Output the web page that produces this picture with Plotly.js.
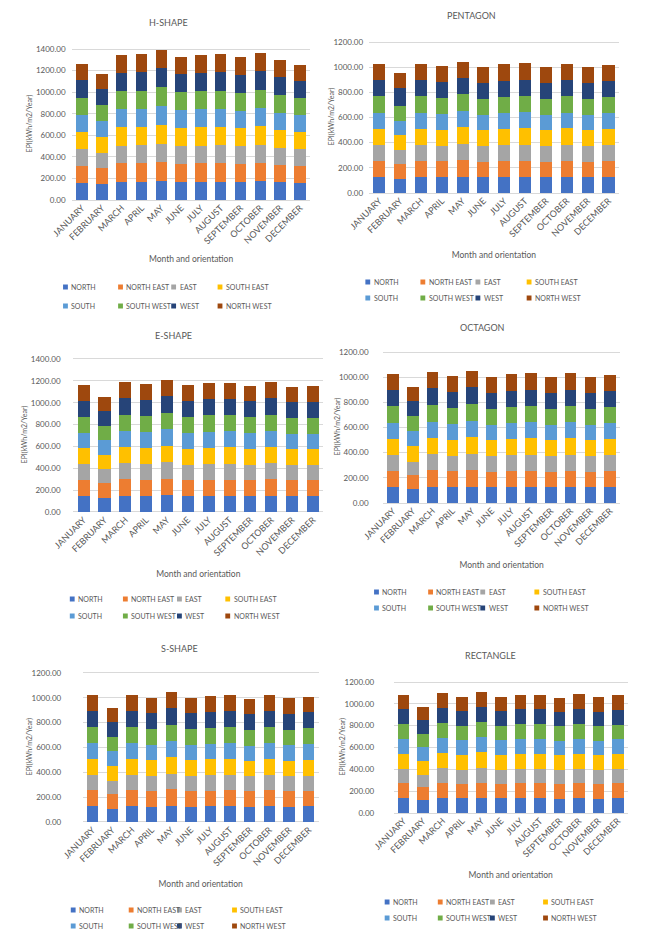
<!DOCTYPE html>
<html>
<head>
<meta charset="utf-8">
<script src="https://cdn.plot.ly/plotly-3.0.1.min.js"></script>
<style>
html,body{margin:0;padding:0;background:#ffffff;}
#chart{width:645px;height:944px;}
</style>
</head>
<body>
<div id="chart"></div>
<script>
// ---------- DATA ----------
const MONTHS = ['JANUARY','FEBRUARY','MARCH','APRIL','MAY','JUNE','JULY','AUGUST','SEPTEMBER','OCTOBER','NOVEMBER','DECEMBER'];
const ORIENTATIONS = ['NORTH','NORTH EAST','EAST','SOUTH EAST','SOUTH','SOUTH WEST','WEST','NORTH WEST'];
const SHAPE_TITLES = ['H-SHAPE','PENTAGON','E-SHAPE','OCTAGON','S-SHAPE','RECTANGLE'];
const Y_TICKS_1400 = [0,200,400,600,800,1000,1200,1400];
const Y_LABELS_1400 = ['0.00','200.00','400.00','600.00','800.00','1000.00','1200.00','1400.00'];
const Y_TICKS_1200 = [0,200,400,600,800,1000,1200];
const Y_LABELS_1200 = ['0.00','200.00','400.00','600.00','800.00','1000.00','1200.00'];

// rows = orientations (NORTH ... NORTH WEST), columns = months (JAN ... DEC), EPI kWh/m2/Year
const H_SHAPE = [
  [160,148,170,171,177,168,170,171,168,172,164,159],
  [159,147,169,170,175,167,169,170,166,171,163,158],
  [155,143,165,166,171,163,165,166,163,167,159,154],
  [160,148,171,171,176,168,170,171,168,172,164,159],
  [156,144,166,167,172,164,166,167,164,168,160,155],
  [159,147,169,170,175,167,169,170,167,171,163,158],
  [159,148,169,170,175,167,169,169,166,171,163,158],
  [156,144,166,167,172,164,166,167,164,168,160,155]
];
const PENTAGON = [
  [127,112,128,125,131,124,127,128,124,128,124,127],
  [129,118,129,127,132,126,128,129,126,129,125,128],
  [124,110,124,122,127,121,124,125,121,125,121,124],
  [131,118,130,129,133,127,130,131,127,131,127,129],
  [126,116,127,124,128,123,126,127,123,126,124,126],
  [130,114,129,128,132,127,129,130,127,130,127,129],
  [130,145,130,128,132,127,130,131,127,130,127,129],
  [128,122,128,127,130,125,128,129,125,129,125,128]
];
const E_SHAPE = [
  [146,128,149,147,152,145,148,148,145,149,144,144],
  [147,134,150,148,153,146,149,149,146,150,145,145],
  [142,130,146,143,148,142,144,145,141,146,140,141],
  [147,134,151,149,154,147,149,150,146,151,145,145],
  [143,131,147,145,150,143,146,146,143,147,142,142],
  [146,133,149,147,152,146,148,149,145,149,145,145],
  [146,134,150,147,152,146,148,149,146,150,145,145],
  [143,131,146,144,149,143,146,147,143,146,142,143]
];
const OCTAGON = [
  [127,108,130,125,131,124,127,128,124,128,124,127],
  [129,115,131,127,133,126,128,129,126,129,125,128],
  [124,106,126,122,128,121,124,125,121,125,121,124],
  [131,125,132,128,134,127,130,131,127,131,127,129],
  [126,120,128,124,129,123,126,127,123,127,124,126],
  [130,115,131,128,132,127,129,130,126,130,127,129],
  [130,119,132,128,133,127,130,131,127,131,127,129],
  [128,112,130,126,130,125,128,129,124,129,125,128]
];
const S_SHAPE = [
  [127,108,128,124,131,124,126,127,123,127,123,125],
  [128,114,127,126,132,125,127,128,124,128,125,127],
  [124,106,124,121,127,122,123,124,120,124,120,122],
  [130,124,129,127,133,127,129,130,126,130,127,128],
  [126,119,127,123,128,124,125,126,122,126,123,125],
  [129,115,129,127,132,126,128,129,125,129,126,128],
  [129,120,129,127,132,127,129,130,126,129,126,128],
  [127,112,127,125,130,125,128,128,124,127,125,127]
];
const RECTANGLE = [
  [136,116,138,133,139,133,136,136,132,136,132,135],
  [137,121,139,134,140,133,136,137,133,137,133,136],
  [132,114,134,130,135,131,133,132,129,133,130,132],
  [138,126,140,136,141,135,138,138,135,139,135,137],
  [134,124,136,132,137,133,134,134,131,135,132,134],
  [137,122,139,134,140,134,137,137,133,137,133,136],
  [137,128,139,134,140,134,137,137,134,138,134,136],
  [134,124,135,132,138,132,134,134,131,135,131,134]
];
const SHAPES_DATA = [H_SHAPE, PENTAGON, E_SHAPE, OCTAGON, S_SHAPE, RECTANGLE];
const Y_MAX = [1400,1200,1400,1200,1200,1200];

// ---------- STYLE / GEOMETRY ----------
const COLORS = ['#4472C4','#ED7D31','#A5A5A5','#FFC000','#5B9BD5','#70AD47','#264478','#9E480E'];
const W = 645, H = 944;
const FONT = 'Lato, "Liberation Sans", "DejaVu Sans", sans-serif';
const TXT = '#595959';
const HEADROOM = 1.0125; // small space above the top gridline
// pixel geometry of each panel (yb = baseline, yt = top gridline)
const PANELS = [
  {x0:52,  x1:298, yb:200, yt:49,  tx:152, ty:23,  gap:4,  so:10, lx:[45,102,157,205],  ly:[287,306]},
  {x0:359, x1:618, yb:193, yt:42,  tx:465, ty:15,  gap:3,  so:13, lx:[358,415,472,525], ly:[282,298]},
  {x0:53,  x1:312, yb:512, yt:359, tx:157, ty:335, gap:10, so:13, lx:[52,107,163,213],  ly:[599,616]},
  {x0:374, x1:619, yb:503, yt:352, tx:477, ty:327, gap:12, so:13, lx:[367,423,477,533], ly:[592,608]},
  {x0:63,  x1:307, yb:822, yt:673, tx:163, ty:648, gap:19, so:13, lx:[53,113,163,220],  ly:[910,926]},
  {x0:385, x1:627, yb:813, yt:682, tx:485, ty:655, gap:17, so:13, lx:[378,433,487,542], ly:[902,918]}
];
const px = v => v / W;
const py = v => 1 - v / H;

const traces = [];
const layout = {
  width: W, height: H,
  margin: {l:0, r:0, t:0, b:0},
  paper_bgcolor: '#ffffff', plot_bgcolor: 'rgba(0,0,0,0)',
  barmode: 'stack', bargap: 0.42,
  showlegend: false,
  font: {family: FONT, color: TXT, size: 8},
  annotations: [], shapes: []
};

SHAPES_DATA.forEach((data, p) => {
  const n = p === 0 ? '' : String(p + 1);
  const g = PANELS[p];
  data.forEach((vals, o) => {
    traces.push({
      type: 'bar', x: MONTHS, y: vals, name: ORIENTATIONS[o],
      xaxis: 'x' + n, yaxis: 'y' + n,
      marker: {color: COLORS[o], line: {width: 0}},
      hovertemplate: '%{x}<br>' + ORIENTATIONS[o] + ': %{y:.2f}<extra></extra>'
    });
  });
  layout['xaxis' + n] = {
    domain: [px(g.x0), px(g.x1)], anchor: 'y' + n,
    type: 'category', showgrid: false, showline: false, zeroline: false, ticks: '',
    tickangle: -45, tickfont: {size: 9, color: TXT, family: FONT},
    automargin: true,
    title: {text: 'Month and orientation', standoff: g.so, font: {size: 8.5, color: TXT, family: FONT}},
    fixedrange: true
  };
  const big = Y_MAX[p] === 1400;
  const topPx = g.yb - (g.yb - g.yt) * HEADROOM;
  layout['yaxis' + n] = {
    domain: [py(g.yb), py(topPx)], anchor: 'x' + n,
    type: 'linear', autorange: false,
    range: [0, Y_MAX[p] * HEADROOM],
    tickmode: 'array',
    tickvals: big ? Y_TICKS_1400 : Y_TICKS_1200,
    ticktext: big ? Y_LABELS_1400 : Y_LABELS_1200,
    showticklabels: true,
    ticklabelposition: 'outside',
    ticklabeloverflow: 'allow',
    ticks: 'outside', ticklen: g.gap, tickcolor: 'rgba(0,0,0,0)', tickwidth: 1,
    showgrid: true, gridcolor: '#D9D9D9', gridwidth: 1,
    zeroline: true, zerolinecolor: '#D9D9D9', zerolinewidth: 1,
    showline: false, automargin: false,
    tickfont: {size: 8, color: TXT, family: FONT},
    title: {text: 'EPI(kWh/m2/Year)', font: {size: 7, color: TXT, family: FONT}},
    fixedrange: true
  };
  // panel title
  layout.annotations.push({
    xref: 'paper', yref: 'paper', x: px(g.tx), y: py(g.ty),
    xanchor: 'center', yanchor: 'middle', showarrow: false,
    text: SHAPE_TITLES[p], font: {size: 9, color: TXT, family: FONT}
  });
  // legend (2 rows x 4 columns, Excel style)
  ORIENTATIONS.forEach((name, i) => {
    const cx = g.lx[i % 4], cy = g.ly[i < 4 ? 0 : 1];
    layout.shapes.push({
      type: 'rect', xref: 'paper', yref: 'paper',
      x0: px(cx - 2.5), x1: px(cx + 2.5), y0: py(cy + 2.5), y1: py(cy - 2.5),
      fillcolor: COLORS[i], line: {width: 0}
    });
    layout.annotations.push({
      xref: 'paper', yref: 'paper', x: px(cx + 4), y: py(cy),
      xanchor: 'left', yanchor: 'middle', showarrow: false,
      text: name, font: {size: 7, color: TXT, family: FONT}
    });
  });
});

Plotly.newPlot('chart', traces, layout, {displayModeBar: false, staticPlot: true});
</script>
</body>
</html>
